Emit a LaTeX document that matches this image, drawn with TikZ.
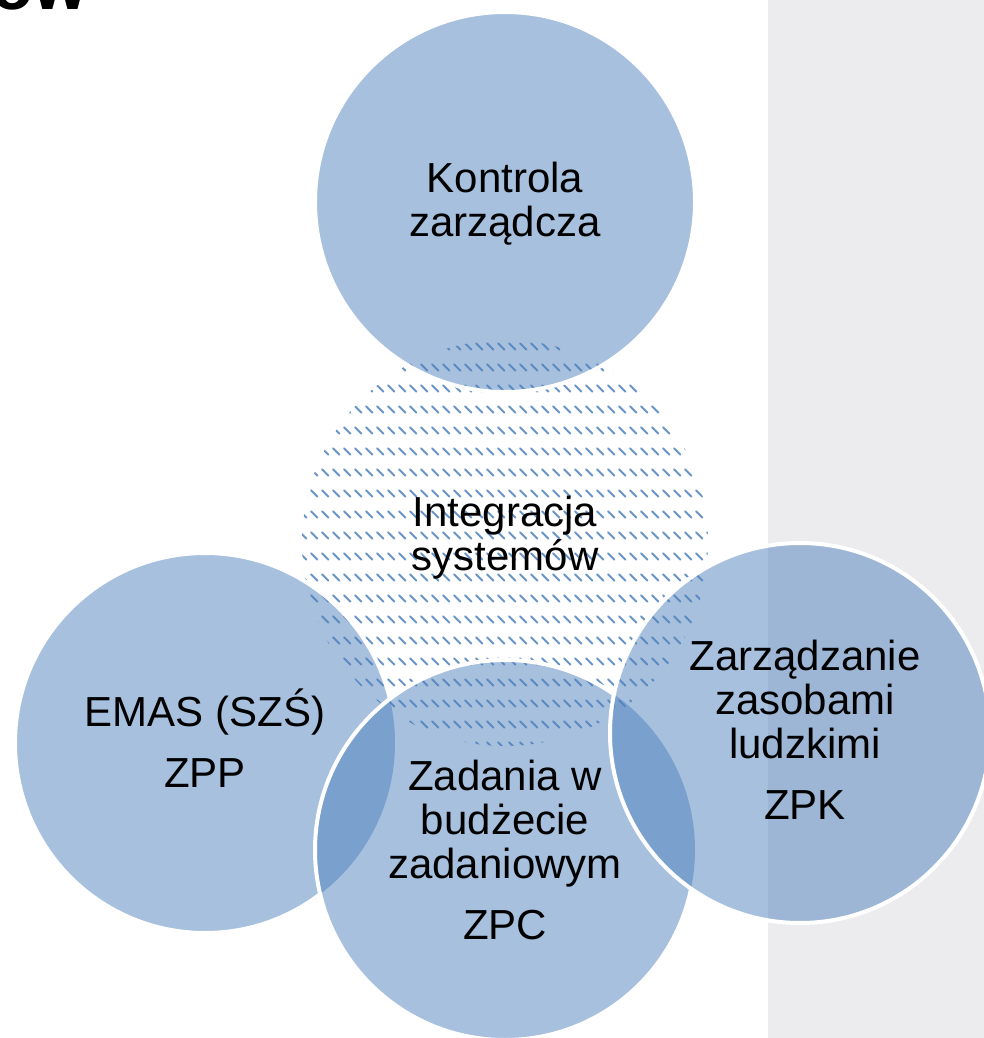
\documentclass[tikz,border=0pt]{standalone}
\usepackage{fontspec}
\setmainfont{Liberation Sans}
\usetikzlibrary{patterns}
\definecolor{vennblue}{HTML}{4F81BD}
\definecolor{panelgrey}{HTML}{ECECEE}

% dashed downward diagonal hatch
\pgfdeclarepatternformonly{dashdown}{\pgfpointorigin}{\pgfpoint{8pt}{16pt}}{\pgfpoint{8pt}{16pt}}{%
  \pgfsetlinewidth{1.5pt}%
  \pgfsetroundcap%
  \pgfpathmoveto{\pgfpoint{1.5pt}{14.5pt}}%
  \pgfpathlineto{\pgfpoint{6.5pt}{9.5pt}}%
  \pgfusepath{stroke}%
}

\tikzset{
  vennfill/.style={fill=vennblue, fill opacity=0.5},
  vennline/.style={draw=white, line width=3pt},
  venntext/.style={align=center, inner sep=0pt, font=\fontsize{31.5}{33}\selectfont},
}

\begin{document}
\begin{tikzpicture}[x=0.75pt,y=0.75pt,yscale=-1,xscale=1]
    \useasboundingbox (0,0) rectangle (984,1038);
    \clip (0,0) rectangle (984,1038);

    %Shape: Rectangle [panel]
    \fill[panelgrey] (768,0) rectangle (984,1038);

    \coordinate (cint) at (505,543);
    \coordinate (ctop) at (505,202);
    \coordinate (cemas) at (205,743);
    \coordinate (czpc) at (505,850);
    \coordinate (czpk) at (800,733);

    %Shape: Circle [hatched]
    \fill[pattern=dashdown, pattern color=vennblue!85] (cint) circle[radius=203];
    %Shape: Circle [top]
    \fill[vennfill] (ctop) circle[radius=190];
    \draw[vennline] (ctop) circle[radius=190];
    %Shape: Circle [left]
    \fill[vennfill] (cemas) circle[radius=190];
    \begin{scope}[even odd rule]
      \clip (0,0) rectangle (984,1038) (czpc) circle[radius=190];
      \draw[vennline] (cemas) circle[radius=190];
    \end{scope}
    %Shape: Circle [bottom]
    \fill[vennfill] (czpc) circle[radius=190];
    \begin{scope}[even odd rule]
      \clip (0,0) rectangle (984,1038) (czpk) circle[radius=190];
      \draw[vennline] (czpc) circle[radius=190];
    \end{scope}
    %Shape: Circle [right]
    \fill[vennfill] (czpk) circle[radius=190];
    \draw[vennline] (czpk) circle[radius=190];

    % Text Node
    \node[anchor=base west, inner sep=0pt, font=\fontsize{52}{52}\selectfont\bfseries] (title) at (-9,10) {ów};
    % Text Node
    \node[venntext] (kontrola) at (505,204) {Kontrola\\zarządcza};
    % Text Node
    \node[venntext] (integracja) at (505,538) {Integracja\\systemów};
    % Text Node
    \node[venntext] (emas) at (205,738) {EMAS (SZŚ)\\[13pt]ZPP};
    % Text Node
    \node[venntext] (zadania) at (505,850) {Zadania w\\budżecie\\zadaniowym\\[13pt]ZPC};
    % Text Node
    \node[venntext] (zasoby) at (805,730) {Zarządzanie\\zasobami\\ludzkimi\\[13pt]ZPK};

\end{tikzpicture}
\end{document}
